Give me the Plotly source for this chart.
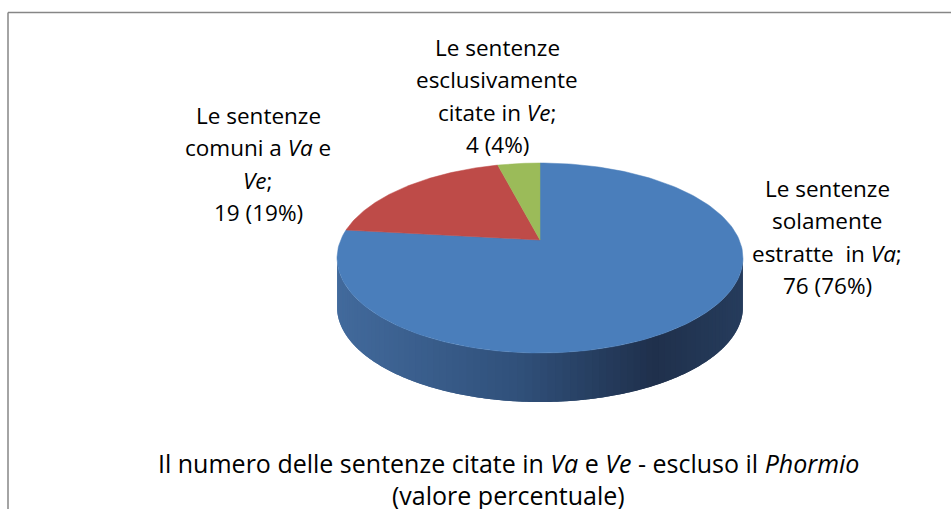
import plotly.graph_objects as go
import numpy as np

# dati
valori = [76, 19, 4]
percentuali = [76, 19, 4]
etichette = [
    ["Le sentenze", "solamente", "estratte  in <i>Va</i>;"],
    ["Le sentenze", "comuni a <i>Va</i> e", "<i>Ve</i>;"],
    ["Le sentenze", "esclusivamente", "citate in <i>Ve</i>;"],
]
titolo = ["Il numero delle sentenze citate in <i>Va</i> e <i>Ve</i> - escluso il <i>Phormio</i>",
          "(valore percentuale)"]

colori = ["#4a7ebb", "#be4b48", "#9bbb59"]
font_fam = "Open Sans, sans-serif"

# geometria della torta 3D (pixel)
W, H = 951, 509
cx, cy = 540, 240          # centro proiettato
C, A, b = 199.3, 91.6, 0.1895   # semiassi e prospettiva
depth = 49


def proietta(theta):
    # theta in gradi, senso orario dall'alto
    t = np.radians(theta)
    x, z = np.sin(t), np.cos(t)
    return cx + C * x / (1 + b * z), cy - A * z / (1 + b * z)


fig = go.Figure()

# fianco (solo la parte frontale, tutta blu) con sfumatura
t_left = 360 - np.degrees(np.arccos(-b))
t_right = np.degrees(np.arccos(-b))
stops = [(0.0, (66, 106, 156)), (0.45, (48, 80, 122)), (0.78, (31, 48, 76)), (1.0, (38, 60, 92))]


def colore_fianco(u):
    for (u0, c0), (u1, c1) in zip(stops[:-1], stops[1:]):
        if u <= u1:
            f = (u - u0) / (u1 - u0)
            c = [round(c0[i] + f * (c1[i] - c0[i])) for i in range(3)]
            return "rgb(%d,%d,%d)" % tuple(c)
    return "rgb(%d,%d,%d)" % stops[-1][1]


xl, _ = proietta(t_left)
xr, _ = proietta(t_right)
n = 90
bordi = np.linspace(t_left, t_right, n + 1)
for i in range(n):
    # ogni striscia si sovrappone alla successiva per evitare fessure
    th = np.linspace(bordi[i], bordi[min(i + 2, n)], 6)
    px, py = proietta(th)
    xs = list(px) + list(px[::-1])
    ys = list(py) + list(py[::-1] + depth)
    pm, _ = proietta((bordi[i] + bordi[i + 1]) / 2)
    u = (pm - xl) / (xr - xl)
    col = colore_fianco(u)
    fig.add_trace(go.Scatter(x=xs, y=ys, fill="toself", fillcolor=col, mode="none",
                             hoverinfo="skip", showlegend=False))

# facce superiori
tot = sum(valori)
inizio = 0
for v, col in zip(valori, colori):
    fine = inizio + 360 * v / tot
    th = np.linspace(inizio, fine, 200)
    px, py = proietta(th)
    xs = [cx] + list(px) + [cx]
    ys = [cy] + list(py) + [cy]
    fig.add_trace(go.Scatter(x=xs, y=ys, fill="toself", fillcolor=col, mode="lines",
                             line=dict(color=col, width=0.5), hoverinfo="skip", showlegend=False))
    inizio = fine

# etichette
pos_etichette = [(827, 188), (258, 115), (497, 47)]
passo = 32.5
for righe, v, p, (lx, ly) in zip(etichette, valori, percentuali, pos_etichette):
    righe = righe + ["%d (%d%%)" % (v, p)]
    for k, r in enumerate(righe):
        fig.add_annotation(x=lx, y=ly + k * passo, text=r, showarrow=False,
                           xanchor="center", yanchor="middle",
                           font=dict(family=font_fam, size=22.5, color="black"))

for k, r in enumerate(titolo):
    fig.add_annotation(x=508, y=463 + k * 32, text=r, showarrow=False,
                       xanchor="center", yanchor="middle",
                       font=dict(family=font_fam, size=25, color="black"))

# cornice (solo lato superiore e sinistro visibili)
fig.add_shape(type="line", x0=8, x1=W, y0=12.5, y1=12.5, line=dict(color="#868686", width=1.5))
fig.add_shape(type="line", x0=8, x1=8, y0=12.5, y1=H, line=dict(color="#868686", width=1.5))

fig.update_layout(
    width=W, height=H,
    margin=dict(l=0, r=0, t=0, b=0),
    paper_bgcolor="white", plot_bgcolor="white",
    xaxis=dict(range=[0, W], visible=False, fixedrange=True),
    yaxis=dict(range=[H, 0], visible=False, fixedrange=True),
    showlegend=False,
)

fig.write_html("out.html", config={"displayModeBar": False},
               post_script="document.body.style.margin='0';")
